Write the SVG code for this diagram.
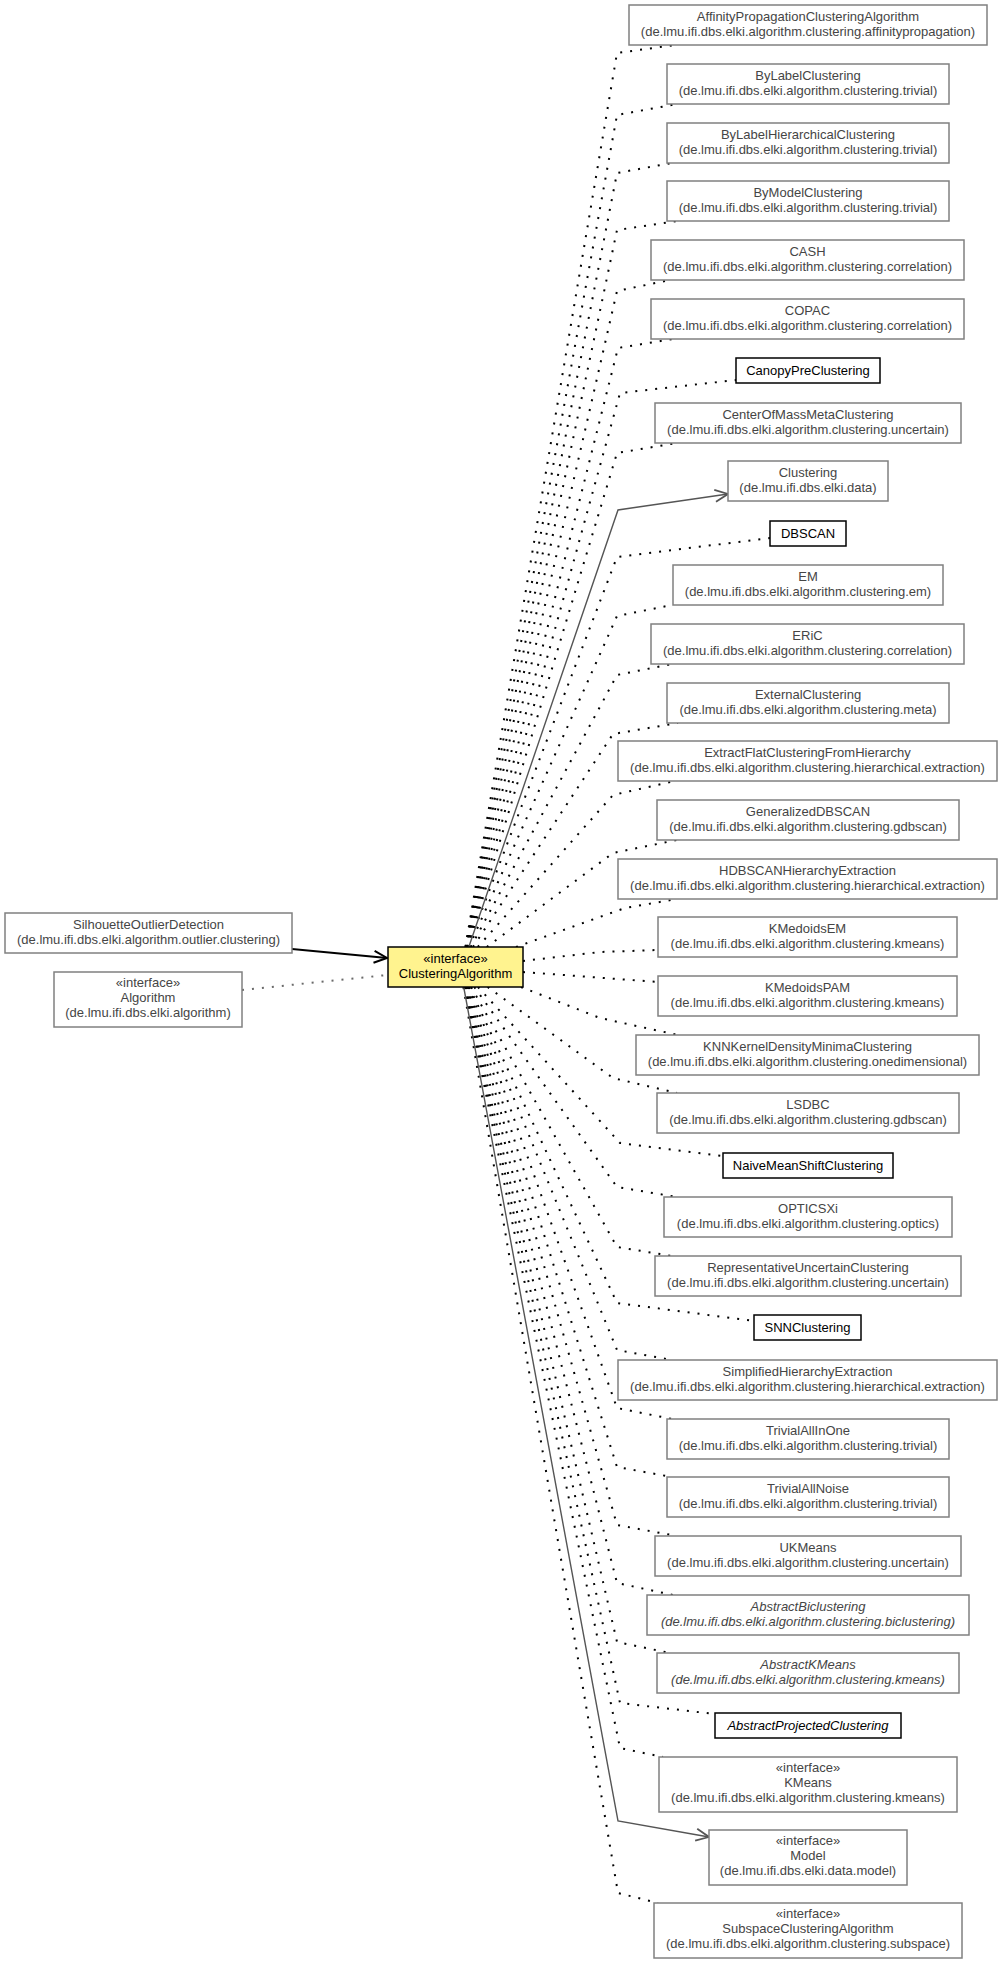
<svg xmlns="http://www.w3.org/2000/svg" width="1003" height="1963" viewBox="0 0 1003 1963">
<style>
text{font-family:"Liberation Sans",Arial,sans-serif;font-size:13px;text-anchor:middle}
.g rect{fill:#fff;stroke:#808080;stroke-width:1.5}
.g text{fill:#454545}
.b rect{fill:#fff;stroke:#000;stroke-width:1.5}
.b text{fill:#000}
.i text{font-style:italic}
.f rect{fill:#fff38f;stroke:#000;stroke-width:1.5}
.f text{fill:#000}
.dot{fill:none;stroke:#000;stroke-width:2;stroke-dasharray:2 8}
.gdot{fill:none;stroke:#6a6a6a;stroke-width:2;stroke-dasharray:2 8}
.sol{fill:none;stroke:#555;stroke-width:1.4}
.solb{fill:none;stroke:#000;stroke-width:1.8}
</style>
<defs>
<marker id="ag" markerUnits="userSpaceOnUse" markerWidth="16" markerHeight="14" refX="13" refY="6" orient="auto" overflow="visible"><path d="M0,0 L13,6 L0,12" fill="none" stroke="#555" stroke-width="1.8"/></marker>
<marker id="ab" markerUnits="userSpaceOnUse" markerWidth="16" markerHeight="14" refX="13" refY="6" orient="auto" overflow="visible"><path d="M0,0 L13,6 L0,12" fill="none" stroke="#000" stroke-width="2"/></marker>
</defs>
<g id="connectors">
<path class="dot" d="M465.4,947 L617,53 L675,45"/>
<path class="dot" d="M465.6,947 L617,115 L677,104"/>
<path class="dot" d="M465.9,947 L617,173 L672,163"/>
<path class="dot" d="M466.2,947 L617,230 L677,221"/>
<path class="dot" d="M466.6,947 L617,291 L670,280"/>
<path class="dot" d="M467,947 L618,348 L673,339"/>
<path class="dot" d="M467.5,947 L620,393 L736,380"/>
<path class="dot" d="M468,947 L617,453 L677,443"/>
<path class="dot" d="M467.7,947 L617,557 L770,538"/>
<path class="dot" d="M469,947 L617,616 L672,605"/>
<path class="dot" d="M470.8,947 L617,675 L672,664"/>
<path class="dot" d="M473,947 L613,734 L678,723"/>
<path class="dot" d="M477.8,947 L613,795 L675,781"/>
<path class="dot" d="M486.8,947 L613,853 L677,840"/>
<path class="dot" d="M516,947 L625,908 L677,899"/>
<path class="dot" d="M523,961 L600,952 L658,950"/>
<path class="dot" d="M523,972 L658,982"/>
<path class="dot" d="M521,987 L600,1018 L678,1035"/>
<path class="dot" d="M487.6,987 L613,1078 L677,1093"/>
<path class="dot" d="M478,987 L620,1143 L723,1156"/>
<path class="dot" d="M474.3,987 L617,1187 L677,1197"/>
<path class="dot" d="M471.2,987 L617,1247 L672,1256"/>
<path class="dot" d="M469.3,987 L617,1303 L754,1321"/>
<path class="dot" d="M468.2,987 L617,1350 L672,1360"/>
<path class="dot" d="M467.1,987 L617,1408 L672,1419"/>
<path class="dot" d="M466.3,987 L617,1467 L672,1477"/>
<path class="dot" d="M465.6,987 L617,1525 L677,1536"/>
<path class="dot" d="M465.1,987 L617,1583 L673,1595"/>
<path class="dot" d="M464.7,987 L617,1642 L670,1653"/>
<path class="dot" d="M464.5,987 L620,1703 L715,1714"/>
<path class="dot" d="M464.1,987 L620,1748 L663,1757"/>
<path class="dot" d="M463.4,987 L618,1893 L658,1903"/>
<path class="sol" d="M468.8,947 L618,510 L728,494" marker-end="url(#ag)"/>
<path class="sol" d="M463.7,987 L618,1821 L709,1837" marker-end="url(#ag)"/>
<path class="solb" d="M292,949 L387,958" marker-end="url(#ab)"/>
<path class="gdot" d="M242,990 L387,975"/>
</g>
<g id="n1" class="g"><rect x="629" y="5" width="358" height="40"/><text x="808" y="21">AffinityPropagationClusteringAlgorithm</text><text x="808" y="36">(de.lmu.ifi.dbs.elki.algorithm.clustering.affinitypropagation)</text></g>
<g id="n2" class="g"><rect x="667" y="64" width="282" height="40"/><text x="808" y="80">ByLabelClustering</text><text x="808" y="95">(de.lmu.ifi.dbs.elki.algorithm.clustering.trivial)</text></g>
<g id="n3" class="g"><rect x="667" y="123" width="282" height="40"/><text x="808" y="139">ByLabelHierarchicalClustering</text><text x="808" y="154">(de.lmu.ifi.dbs.elki.algorithm.clustering.trivial)</text></g>
<g id="n4" class="g"><rect x="667" y="181" width="282" height="40"/><text x="808" y="197">ByModelClustering</text><text x="808" y="212">(de.lmu.ifi.dbs.elki.algorithm.clustering.trivial)</text></g>
<g id="n5" class="g"><rect x="651" y="240" width="313" height="40"/><text x="807.5" y="256">CASH</text><text x="807.5" y="271">(de.lmu.ifi.dbs.elki.algorithm.clustering.correlation)</text></g>
<g id="n6" class="g"><rect x="651" y="299" width="313" height="40"/><text x="807.5" y="315">COPAC</text><text x="807.5" y="330">(de.lmu.ifi.dbs.elki.algorithm.clustering.correlation)</text></g>
<g id="n7" class="b"><rect x="736" y="358" width="144" height="25"/><text x="808" y="375">CanopyPreClustering</text></g>
<g id="n8" class="g"><rect x="655" y="403" width="306" height="40"/><text x="808" y="419">CenterOfMassMetaClustering</text><text x="808" y="434">(de.lmu.ifi.dbs.elki.algorithm.clustering.uncertain)</text></g>
<g id="n9" class="g"><rect x="728" y="461" width="160" height="40"/><text x="808" y="477">Clustering</text><text x="808" y="492">(de.lmu.ifi.dbs.elki.data)</text></g>
<g id="n10" class="b"><rect x="770" y="521" width="76" height="25"/><text x="808" y="538">DBSCAN</text></g>
<g id="n11" class="g"><rect x="673" y="565" width="270" height="40"/><text x="808" y="581">EM</text><text x="808" y="596">(de.lmu.ifi.dbs.elki.algorithm.clustering.em)</text></g>
<g id="n12" class="g"><rect x="651" y="624" width="313" height="40"/><text x="807.5" y="640">ERiC</text><text x="807.5" y="655">(de.lmu.ifi.dbs.elki.algorithm.clustering.correlation)</text></g>
<g id="n13" class="g"><rect x="667" y="683" width="282" height="40"/><text x="808" y="699">ExternalClustering</text><text x="808" y="714">(de.lmu.ifi.dbs.elki.algorithm.clustering.meta)</text></g>
<g id="n14" class="g"><rect x="618" y="741" width="379" height="40"/><text x="807.5" y="757">ExtractFlatClusteringFromHierarchy</text><text x="807.5" y="772">(de.lmu.ifi.dbs.elki.algorithm.clustering.hierarchical.extraction)</text></g>
<g id="n15" class="g"><rect x="657" y="800" width="302" height="40"/><text x="808" y="816">GeneralizedDBSCAN</text><text x="808" y="831">(de.lmu.ifi.dbs.elki.algorithm.clustering.gdbscan)</text></g>
<g id="n16" class="g"><rect x="618" y="859" width="379" height="40"/><text x="807.5" y="875">HDBSCANHierarchyExtraction</text><text x="807.5" y="890">(de.lmu.ifi.dbs.elki.algorithm.clustering.hierarchical.extraction)</text></g>
<g id="n17" class="g"><rect x="658" y="917" width="299" height="40"/><text x="807.5" y="933">KMedoidsEM</text><text x="807.5" y="948">(de.lmu.ifi.dbs.elki.algorithm.clustering.kmeans)</text></g>
<g id="n18" class="g"><rect x="658" y="976" width="299" height="40"/><text x="807.5" y="992">KMedoidsPAM</text><text x="807.5" y="1007">(de.lmu.ifi.dbs.elki.algorithm.clustering.kmeans)</text></g>
<g id="n19" class="g"><rect x="636" y="1035" width="343" height="40"/><text x="807.5" y="1051">KNNKernelDensityMinimaClustering</text><text x="807.5" y="1066">(de.lmu.ifi.dbs.elki.algorithm.clustering.onedimensional)</text></g>
<g id="n20" class="g"><rect x="657" y="1093" width="302" height="40"/><text x="808" y="1109">LSDBC</text><text x="808" y="1124">(de.lmu.ifi.dbs.elki.algorithm.clustering.gdbscan)</text></g>
<g id="n21" class="b"><rect x="723" y="1153" width="170" height="25"/><text x="808" y="1170">NaiveMeanShiftClustering</text></g>
<g id="n22" class="g"><rect x="664" y="1197" width="288" height="40"/><text x="808" y="1213">OPTICSXi</text><text x="808" y="1228">(de.lmu.ifi.dbs.elki.algorithm.clustering.optics)</text></g>
<g id="n23" class="g"><rect x="655" y="1256" width="306" height="40"/><text x="808" y="1272">RepresentativeUncertainClustering</text><text x="808" y="1287">(de.lmu.ifi.dbs.elki.algorithm.clustering.uncertain)</text></g>
<g id="n24" class="b"><rect x="754" y="1315" width="107" height="25"/><text x="807.5" y="1332">SNNClustering</text></g>
<g id="n25" class="g"><rect x="618" y="1360" width="379" height="40"/><text x="807.5" y="1376">SimplifiedHierarchyExtraction</text><text x="807.5" y="1391">(de.lmu.ifi.dbs.elki.algorithm.clustering.hierarchical.extraction)</text></g>
<g id="n26" class="g"><rect x="667" y="1419" width="282" height="40"/><text x="808" y="1435">TrivialAllInOne</text><text x="808" y="1450">(de.lmu.ifi.dbs.elki.algorithm.clustering.trivial)</text></g>
<g id="n27" class="g"><rect x="667" y="1477" width="282" height="40"/><text x="808" y="1493">TrivialAllNoise</text><text x="808" y="1508">(de.lmu.ifi.dbs.elki.algorithm.clustering.trivial)</text></g>
<g id="n28" class="g"><rect x="655" y="1536" width="306" height="40"/><text x="808" y="1552">UKMeans</text><text x="808" y="1567">(de.lmu.ifi.dbs.elki.algorithm.clustering.uncertain)</text></g>
<g id="n29" class="g i"><rect x="647" y="1595" width="322" height="40"/><text x="808" y="1611">AbstractBiclustering</text><text x="808" y="1626">(de.lmu.ifi.dbs.elki.algorithm.clustering.biclustering)</text></g>
<g id="n30" class="g i"><rect x="657" y="1653" width="302" height="40"/><text x="808" y="1669">AbstractKMeans</text><text x="808" y="1684">(de.lmu.ifi.dbs.elki.algorithm.clustering.kmeans)</text></g>
<g id="n31" class="b i"><rect x="715" y="1713" width="186" height="25"/><text x="808" y="1730">AbstractProjectedClustering</text></g>
<g id="n32" class="g"><rect x="659" y="1757" width="298" height="55"/><text x="808" y="1772">«interface»</text><text x="808" y="1787">KMeans</text><text x="808" y="1802">(de.lmu.ifi.dbs.elki.algorithm.clustering.kmeans)</text></g>
<g id="n33" class="g"><rect x="709" y="1830" width="198" height="55"/><text x="808" y="1845">«interface»</text><text x="808" y="1860">Model</text><text x="808" y="1875">(de.lmu.ifi.dbs.elki.data.model)</text></g>
<g id="n34" class="g"><rect x="654" y="1903" width="308" height="55"/><text x="808" y="1918">«interface»</text><text x="808" y="1933">SubspaceClusteringAlgorithm</text><text x="808" y="1948">(de.lmu.ifi.dbs.elki.algorithm.clustering.subspace)</text></g>
<g id="n35" class="g"><rect x="5" y="913" width="287" height="40"/><text x="148.5" y="929">SilhouetteOutlierDetection</text><text x="148.5" y="944">(de.lmu.ifi.dbs.elki.algorithm.outlier.clustering)</text></g>
<g id="n36" class="g"><rect x="54" y="972" width="188" height="55"/><text x="148" y="987">«interface»</text><text x="148" y="1002">Algorithm</text><text x="148" y="1017">(de.lmu.ifi.dbs.elki.algorithm)</text></g>
<g id="n37" class="f"><rect x="388" y="947" width="135" height="40"/><text x="455.5" y="963">«interface»</text><text x="455.5" y="978">ClusteringAlgorithm</text></g>
</svg>
